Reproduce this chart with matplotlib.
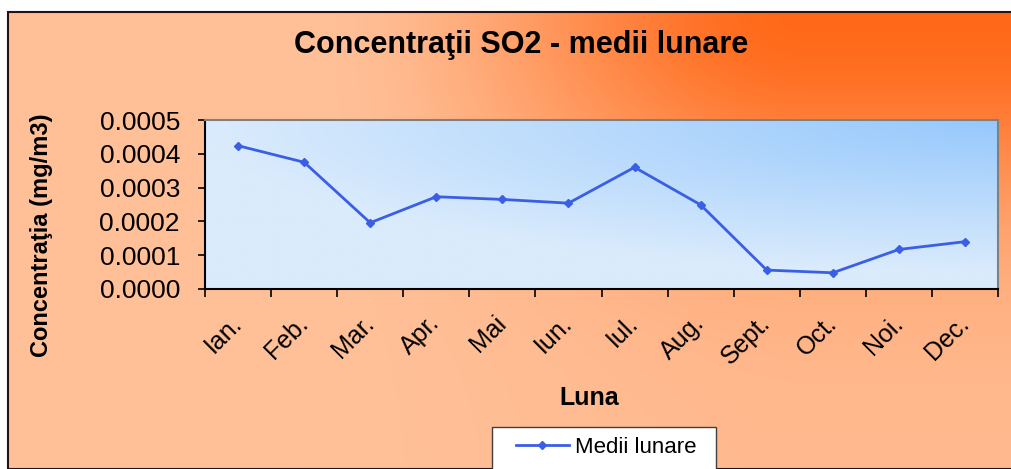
import numpy as np
import matplotlib
matplotlib.use("Agg")
import matplotlib.pyplot as plt
from matplotlib.ticker import FormatStrFormatter, FixedLocator
from matplotlib.patches import Rectangle

months = ["Ian.", "Feb.", "Mar.", "Apr.", "Mai", "Iun.", "Iul.", "Aug.", "Sept.", "Oct.", "Noi.", "Dec."]
values = [0.000424, 0.000375, 0.000196, 0.000273, 0.000265, 0.000254,
          0.000360, 0.000249, 0.000056, 0.000048, 0.000117, 0.000140]
yticks = [0.0, 0.0001, 0.0002, 0.0003, 0.0004, 0.0005]

plt.rcParams['font.family'] = ['Liberation Sans', 'DejaVu Sans']

W, H = 1011, 469
fig = plt.figure(figsize=(W / 100, H / 100), dpi=100)
fig.patch.set_facecolor('white')

def fx(px):
    return px / W

def fy(py):
    return 1 - py / H

# Outer chart area gradient (orange along the top-right, peach elsewhere)
bx0, by0 = 8, 12
bg = fig.add_axes([fx(bx0), 0, 1 - fx(bx0), fy(by0)], zorder=0)
ny, nx = 200, 400
gx, gy = np.meshgrid(np.linspace(0, 1, nx), np.linspace(0, 1, ny))  # gy=0 top
hx = np.clip((gx - 0.3) / 0.5, 0, 1)
hx = hx * hx * (3 - 2 * hx)
vy = np.exp(-(gy / 0.42) ** 2)
f = np.clip(hx * (0.08 + 0.92 * vy), 0, 1)
peach = np.array([255, 192, 152]) / 255
orange = np.array([255, 104, 24]) / 255
img = peach[None, None, :] * (1 - f[..., None]) + orange[None, None, :] * f[..., None]
bg.imshow(img, extent=[0, 1, 0, 1], aspect='auto', origin='upper', interpolation='bilinear')
bg.set_xlim(0, 1)
bg.set_ylim(0, 1)
bg.axis('off')
bg.add_patch(Rectangle((0, 0), 1.2, 1, transform=bg.transAxes, fill=False,
                       edgecolor='#2a1010', linewidth=1.5, clip_on=False))

# Plot area
L, T, R, B = 205, 120, 998, 289
pos = [fx(L), fy(B), fx(R) - fx(L), (B - T) / H]
ga = fig.add_axes(pos, zorder=1)
gx2, gy2 = np.meshgrid(np.linspace(0, 1, nx), np.linspace(0, 1, ny))
d2 = np.sqrt(((1 - gx2) * 0.9) ** 2 + (gy2 * 1.0) ** 2)
f2 = np.clip(1 - d2 / 0.9, 0, 1)
light = np.array([218, 235, 252]) / 255
blue = np.array([150, 200, 252]) / 255
img2 = light[None, None, :] * (1 - f2[..., None]) + blue[None, None, :] * f2[..., None]
ga.imshow(img2, extent=[0, 1, 0, 1], aspect='auto', origin='upper', interpolation='bilinear')
ga.axis('off')

ax = fig.add_axes(pos, zorder=2)
ax.patch.set_alpha(0)
x = np.arange(len(months))
ax.plot(x, values, color='#3A5FE6', linewidth=2, marker='D', markersize=4.5,
        label='Medii lunare')
ax.set_xlim(-0.5, len(months) - 0.5)
ax.set_ylim(0, 0.0005)
ax.set_yticks(yticks)
ax.yaxis.set_major_formatter(FormatStrFormatter('%.4f'))
ax.tick_params(axis='y', direction='out', length=5, width=1.2, labelsize=19, pad=13, colors='black')

ax.xaxis.set_major_locator(FixedLocator(np.arange(-0.5, len(months), 1.0)))
ax.xaxis.set_major_formatter(plt.NullFormatter())
ax.set_xticks(x, minor=True)
ax.set_xticklabels(months, minor=True)
ax.tick_params(axis='x', which='major', direction='out', length=6, width=1.2)
ax.tick_params(axis='x', which='minor', length=0, labelsize=18, pad=22)
plt.setp(ax.get_xticklabels(minor=True), rotation=45, ha='right', va='center',
         rotation_mode='anchor')

for s in ['left', 'bottom']:
    ax.spines[s].set_color('black')
    ax.spines[s].set_linewidth(1.5)
for s in ['top', 'right']:
    ax.spines[s].set_color('#808080')
    ax.spines[s].set_linewidth(1.5)

fig.text(fx(521), fy(45), "Concentraţii SO2 - medii lunare", ha='center', va='center',
         fontsize=22, fontweight='bold', zorder=5)
fig.text(fx(42), fy(235), "Concentraţia (mg/m3)", ha='center', va='center',
         rotation=90, fontsize=17, fontweight='bold', zorder=5)
fig.text(fx(589), fy(398), "Luna", ha='center', va='center',
         fontsize=18, fontweight='bold', zorder=5)

# Legend box (Excel style, wide horizontal padding)
box = Rectangle((fx(492), fy(480)), fx(716) - fx(492), (480 - 427) / H,
                transform=fig.transFigure, facecolor='white', edgecolor='#404040',
                linewidth=1.0, zorder=9)
fig.patches.append(box)
leg = fig.legend(loc='center', bbox_to_anchor=(fx(606), fy(447)), fontsize=16,
                 frameon=False, handlelength=2.4, handletextpad=0.25,
                 borderpad=0, borderaxespad=0)
leg.set_zorder(10)

fig.savefig('out.png', dpi=100)
